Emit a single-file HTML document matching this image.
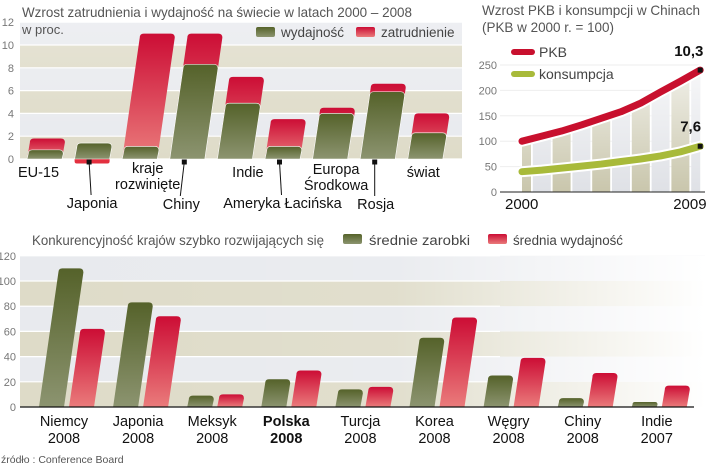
<!DOCTYPE html>
<html><head><meta charset="utf-8"><style>
html,body{margin:0;padding:0;background:#fff;}
svg{display:block;font-family:"Liberation Sans",sans-serif;}
</style></head><body>
<svg id="c" width="720" height="466" viewBox="0 0 720 466" xmlns="http://www.w3.org/2000/svg">
<defs>
<linearGradient id="gG" x1="0" y1="0" x2="0" y2="1"><stop offset="0" stop-color="#55622a"/><stop offset="1" stop-color="#8c9470"/></linearGradient>
<linearGradient id="gR" x1="0" y1="0" x2="0" y2="1"><stop offset="0" stop-color="#cc0d35"/><stop offset="1" stop-color="#ea7b7b"/></linearGradient>
<linearGradient id="fadeR" x1="0" y1="0" x2="1" y2="0"><stop offset="0" stop-color="#fff" stop-opacity="0"/><stop offset="0.55" stop-color="#fff" stop-opacity="0.1"/><stop offset="1" stop-color="#fff" stop-opacity="1"/></linearGradient>
<linearGradient id="fadeT" x1="0" y1="0" x2="0" y2="1"><stop offset="0" stop-color="#fff" stop-opacity="0.9"/><stop offset="1" stop-color="#fff" stop-opacity="0"/></linearGradient>
</defs>
<g id="chart1"></g>
<g id="chart2"></g>
<g id="chart3"></g>
</svg>
<script>
// ---- chart 1 data
const c1Categories = ["EU-15","Japonia","kraje rozwinięte","Chiny","Indie","Ameryka Łacińska","Europa Środkowa","Rosja","świat"];
const c1Productivity = [0.8,1.4,1.1,8.3,4.9,1.1,4.0,5.9,2.3];
const c1Employment = [1.0,-0.4,9.9,2.7,2.3,2.4,0.5,0.7,1.7];
const c1Ticks = [0,2,4,6,8,10,12];
// ---- chart 2 data
const c2Years = [2000,2001,2002,2003,2004,2005,2006,2007,2008,2009];
const c2Gdp = [100,110,120,132,145,158,175,197,218,240];
const c2Consumption = [40,43,47,51,55,60,65,71,79,90];
const c2Ticks = [0,50,100,150,200,250];
// ---- chart 3 data
const c3Categories = ["Niemcy","Japonia","Meksyk","Polska","Turcja","Korea","Węgry","Chiny","Indie"];
const c3Years = ["2008","2008","2008","2008","2008","2008","2008","2008","2007"];
const c3Wages = [110,83,9,22,14,55,25,7,4];
const c3Productivity = [62,72,10,29,16,71,39,27,17];
const c3Ticks = [0,20,40,60,80,100,120];

const NS="http://www.w3.org/2000/svg";
function mk(parent,tag,attrs,text){const e=document.createElementNS(NS,tag);for(const k in attrs)e.setAttribute(k,attrs[k]);if(text!==undefined)e.textContent=text;parent.appendChild(e);return e;}
function barPath(x,y0,y1,w,k){ // skewed bar from y0 (base) to y1 (top)
  const top=Math.min(y0,y1),bot=Math.max(y0,y1);const h=bot-top;
  const sh=(y1<y0)?h*k:0; const r=Math.min(4,h/2);
  if(y1<y0){return `M${x},${bot} L${x+sh},${top+r} Q${x+sh},${top} ${x+sh+r},${top} L${x+sh+w-r},${top} Q${x+sh+w},${top} ${x+sh+w},${top+r} L${x+w},${bot} Z`;}
  return `M${x},${top} L${x+w},${top} L${x+w},${bot-r} Q${x+w},${bot} ${x+w-r},${bot} L${x+r},${bot} Q${x},${bot} ${x},${bot-r} Z`;
}

// ================= CHART 1
(function(){
const g=document.getElementById('chart1');
const y=v=>159-v*11.4, x=i=>27+i*47.6, W=35, K=0.14;
for(let i=0;i<c1Ticks.length-1;i++){
  const b=mk(g,'rect',{x:20,y:y(c1Ticks[i+1]),width:442,height:y(c1Ticks[i])-y(c1Ticks[i+1]),fill:(i%2===0)?'#dedbc8':'#e8eaee'});
  
}
c1Ticks.forEach(t=>{
  const l=mk(g,'line',{x1:20,x2:462,y1:y(t),y2:y(t),stroke:'#fff','stroke-width':1.2});
  
  const tx=mk(g,'text',{x:14,y:y(t)+4,'text-anchor':'end','font-size':11,fill:'#777'},String(t));
  
});
mk(g,'rect',{x:20,y:20,width:442,height:142,fill:'url(#fadeT)',opacity:0.25});
c1Categories.forEach((c,i)=>{
  const p=c1Productivity[i],e=c1Employment[i];
  if(e>=0){
    const r=mk(g,'path',{d:barPath(x(i),y(0),y(p+e),W,K),fill:'url(#gR)'});
    
  } else {
    const r=mk(g,'path',{d:barPath(x(i),y(0),y(e),W,K),fill:'#e3303f'});
    
  }
  const gb=mk(g,'path',{d:barPath(x(i),y(0),y(p),W,K),fill:'url(#gG)',stroke:'#fff','stroke-width':0.6});
  
});
const labs=[
 {i:0,lines:["EU-15"],y:177,dx:-6,lead:false},
 {i:1,lines:["Japonia"],y:208,dx:0,lead:true},
 {i:2,lines:["kraje","rozwinięte"],y:173,dx:8,lead:false},
 {i:3,lines:["Chiny"],y:209,dx:-6,lead:true},
 {i:4,lines:["Indie"],y:177,dx:13,lead:false},
 {i:5,lines:["Ameryka Łacińska"],y:208,dx:0,lead:true},
 {i:6,lines:["Europa","Środkowa"],y:174,dx:6,lead:false},
 {i:7,lines:["Rosja"],y:209,dx:-2,lead:true},
 {i:8,lines:["świat"],y:177,dx:-2,lead:false}];
labs.forEach(L=>{
  const cx=x(L.i)+W/2+L.dx;
  if(L.lead){
    const mx=x(L.i)+W/2-3;
    mk(g,'rect',{x:mx-2.5,y:159.5,width:5,height:5,fill:'#111'});
    mk(g,'line',{x1:mx,y1:162,x2:cx-1,y2:L.y-13,stroke:'#111','stroke-width':1});
  }
  L.lines.forEach((s,k)=>{
    const t=mk(g,'text',{x:cx,y:L.y+k*16,'text-anchor':'middle','font-size':14.5,fill:'#111'},s);
    
  });
});
let t=mk(g,'text',{x:22,y:17,'font-size':14,fill:'#555',textLength:390,lengthAdjust:'spacingAndGlyphs'},'Wzrost zatrudnienia i wydajność na świecie w latach 2000 – 2008');

t=mk(g,'text',{x:22,y:34,'font-size':13,fill:'#555'},'w proc.');

let s=mk(g,'rect',{x:256,y:27,width:19,height:10,rx:2,fill:'url(#gG)'});

t=mk(g,'text',{x:281,y:37,'font-size':13.5,fill:'#444'},'wydajność');

s=mk(g,'rect',{x:356,y:27,width:19,height:10,rx:2,fill:'url(#gR)'});

t=mk(g,'text',{x:381,y:37,'font-size':13.5,fill:'#444'},'zatrudnienie');

})();

// ================= CHART 2
(function(){
const g=document.getElementById('chart2');
const y=v=>192-v*0.508, x=yr=>522+(yr-2000)*19.8;
c2Ticks.forEach(tk=>{
  const l=mk(g,'line',{x1:500,x2:700,y1:y(tk),y2:y(tk),stroke:'#eee','stroke-width':1});
  
  const tx=mk(g,'text',{x:497,y:y(tk)+4,'text-anchor':'end','font-size':11,fill:'#777'},String(tk));
  
});
// area stripes under gdp
let area=`M${x(c2Years[0])},${y(0)}`;
c2Years.forEach((yr,i)=>{area+=` L${x(yr)},${y(c2Gdp[i])}`;});
area+=` L${x(c2Years[c2Years.length-1])},${y(0)} Z`;
mk(g,'clipPath',{id:'c2clip'});
mk(document.getElementById('c2clip'),'path',{d:area});
const sg=mk(g,'g',{'clip-path':'url(#c2clip)'});
for(let i=0;i<c2Years.length;i++){
  mk(sg,'rect',{x:x(c2Years[i])-9,y:40,width:18,height:152,fill:(i%2===0)?'#c9c6ac':'#dfe1e6'});
}
mk(sg,'rect',{x:500,y:40,width:210,height:152,fill:'url(#fadeT)'});
function line(vals,color,name){
  let d='';c2Years.forEach((yr,i)=>{d+=(i?' L':'M')+x(yr)+','+y(vals[i]);});
  mk(g,'path',{d:d,fill:'none',stroke:'#fff','stroke-width':11,'stroke-linecap':'round','stroke-linejoin':'round'});
  const p=mk(g,'path',{d:d,fill:'none',stroke:color,'stroke-width':7,'stroke-linecap':'round','stroke-linejoin':'round'});
  
  const n=c2Years.length-1;
  mk(g,'rect',{x:x(c2Years[n])-2.5,y:y(vals[n])-2.5,width:5,height:5,fill:'#111'});
}
line(c2Consumption,'#a8ba3a','line-consumption');
line(c2Gdp,'#c8102e','line-gdp');
let t=mk(g,'text',{x:x(2009)-26,y:y(c2Gdp[9])-14,'font-size':15,'font-weight':'bold',fill:'#111'},'10,3');

t=mk(g,'text',{x:x(2009)-20,y:y(c2Consumption[9])-15,'font-size':15,'font-weight':'bold',fill:'#111'},'7,6');

const ax=mk(g,'line',{x1:500,x2:705,y1:192,y2:192,stroke:'#222','stroke-width':1});

t=mk(g,'text',{x:x(2000)-17,y:209,'font-size':15,fill:'#111'},'2000');

t=mk(g,'text',{x:x(2009)-27,y:209,'font-size':15,fill:'#111'},'2009');

t=mk(g,'text',{x:482,y:15,'font-size':14,fill:'#555',textLength:218,lengthAdjust:'spacingAndGlyphs'},'Wzrost PKB i konsumpcji w Chinach');

t=mk(g,'text',{x:482,y:32,'font-size':14,fill:'#555',textLength:132,lengthAdjust:'spacingAndGlyphs'},'(PKB w 2000 r. = 100)');

let s=mk(g,'line',{x1:514,x2:532,y1:52,y2:52,stroke:'#c8102e','stroke-width':6,'stroke-linecap':'round'});

t=mk(g,'text',{x:539,y:57,'font-size':14,fill:'#444'},'PKB');

s=mk(g,'line',{x1:514,x2:532,y1:74,y2:74,stroke:'#a8ba3a','stroke-width':6,'stroke-linecap':'round'});

t=mk(g,'text',{x:539,y:79,'font-size':14,fill:'#444'},'konsumpcja');

})();

// ================= CHART 3
(function(){
const g=document.getElementById('chart3');
const y=v=>407-v*1.26, x=i=>39+i*74.1, W=25, K=0.14;
for(let i=0;i<c3Ticks.length-1;i++){
  const b=mk(g,'rect',{x:20,y:y(c3Ticks[i+1]),width:685,height:y(c3Ticks[i])-y(c3Ticks[i+1]),fill:(i%2===0)?'#dedbc8':'#e8eaee'});
  
}
mk(g,'rect',{x:20,y:y(120),width:686,height:y(0)-y(120),fill:'url(#fadeR)'});
c3Ticks.forEach(tk=>{
  const l=mk(g,'line',{x1:20,x2:500,y1:y(tk),y2:y(tk),stroke:'#fff','stroke-width':1.2});
  
  const tx=mk(g,'text',{x:16,y:y(tk)+4,'text-anchor':'end','font-size':11,fill:'#777'},String(tk));
  
});
c3Categories.forEach((c,i)=>{
  const a=mk(g,'path',{d:barPath(x(i),y(0),y(c3Wages[i]),W,K),fill:'url(#gG)'});
  
  const b=mk(g,'path',{d:barPath(x(i)+30,y(0),y(c3Productivity[i]),W,K),fill:'url(#gR)'});
  
  const cx=x(i)+25;
  const bold=c==='Polska'?'bold':'normal';
  let t=mk(g,'text',{x:cx,y:426,'text-anchor':'middle','font-size':14.5,'font-weight':bold,fill:'#111'},c);
  
  t=mk(g,'text',{x:cx,y:443,'text-anchor':'middle','font-size':14.5,'font-weight':bold,fill:'#111'},c3Years[i]);
  
});
const ax=mk(g,'line',{x1:20,x2:694,y1:407,y2:407,stroke:'#111','stroke-width':1.2});

let t=mk(g,'text',{x:32,y:245,'font-size':13.5,fill:'#555',textLength:292,lengthAdjust:'spacingAndGlyphs'},'Konkurencyjność krajów szybko rozwijających się');

let s=mk(g,'rect',{x:343,y:234,width:19,height:10,rx:2,fill:'url(#gG)'});

t=mk(g,'text',{x:369,y:245,'font-size':13.5,fill:'#444',textLength:101,lengthAdjust:'spacingAndGlyphs'},'średnie zarobki');

s=mk(g,'rect',{x:488,y:234,width:19,height:10,rx:2,fill:'url(#gR)'});

t=mk(g,'text',{x:513,y:245,'font-size':13.5,fill:'#444',textLength:110,lengthAdjust:'spacingAndGlyphs'},'średnia wydajność');

t=mk(g,'text',{x:1,y:463,'font-size':10.5,fill:'#555'},'źródło : Conference Board');

})();
</script>
</body></html>
